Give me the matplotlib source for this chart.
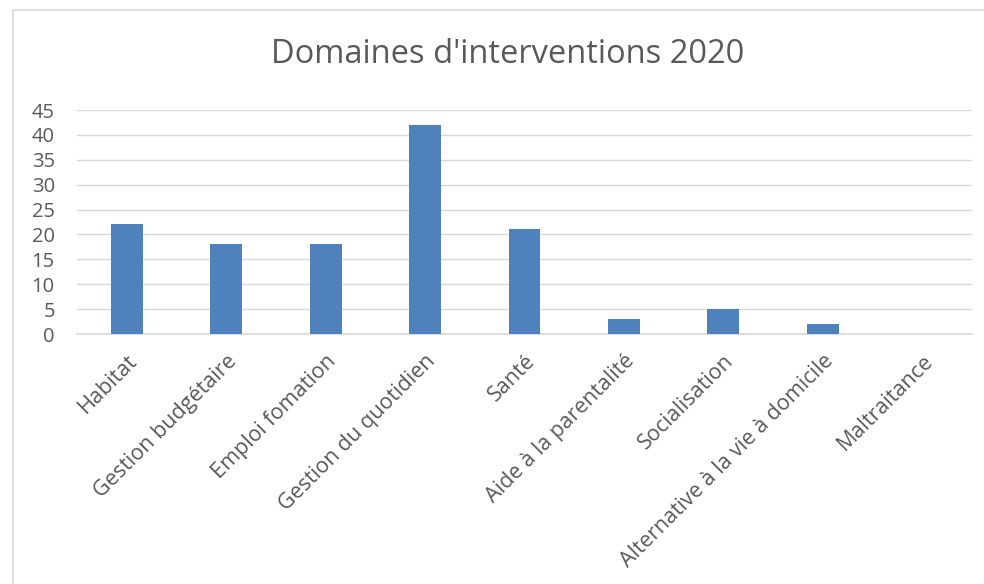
import matplotlib.pyplot as plt
from matplotlib.patches import Rectangle

categories = ["Habitat", "Gestion budgétaire", "Emploi fomation", "Gestion du quotidien",
              "Santé", "Aide à la parentalité", "Socialisation",
              "Alternative à la vie à domicile", "Maltraitance"]
values = [22, 18, 18, 42, 21, 3, 5, 2, 0]
yticks = [0, 5, 10, 15, 20, 25, 30, 35, 40, 45]

plt.rcParams['font.family'] = ['Open Sans', 'DejaVu Sans']
text_col = "#595959"

fig = plt.figure(figsize=(9.84, 5.84), dpi=100)
fig.patches.append(Rectangle((13 / 984, -0.1), 1.2, 1 - 10 / 584 + 0.1,
                             transform=fig.transFigure, fill=False,
                             edgecolor="#D9D9D9", linewidth=1.2))

ax = fig.add_axes([77 / 984, 1 - 334 / 584, (972 - 77) / 984, (334 - 110) / 584])
x = range(len(categories))
ax.bar(x, values, width=0.32, color="#4F81BD", zorder=3)
ax.set_xlim(-0.5, len(categories) - 0.5)
ax.set_ylim(0, 45)
ax.set_yticks(yticks)
ax.grid(axis="y", color="#D9D9D9", linewidth=1, zorder=0)
for s in ["top", "right", "left"]:
    ax.spines[s].set_visible(False)
ax.spines["bottom"].set_color("#D9D9D9")
ax.spines["bottom"].set_linewidth(1.2)
ax.tick_params(axis="both", length=0, colors=text_col)
ax.tick_params(axis="y", pad=16, labelsize=14.5)
ax.set_xticks(list(x))
ax.set_xticklabels(categories, rotation=45, ha="right", va="top",
                   rotation_mode="anchor", color=text_col)
ax.tick_params(axis="x", pad=12, labelsize=15.5)

fig.suptitle("Domaines d'interventions 2020", x=508 / 984, y=1 - 38 / 584,
             fontsize=23.5, color=text_col, va="top")

fig.savefig("out.png", dpi=100)
